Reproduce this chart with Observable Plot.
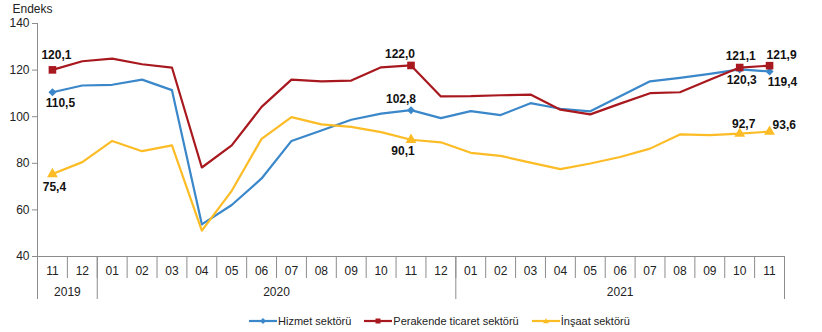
<!DOCTYPE html>
<html><head><meta charset="utf-8">
<script src="https://cdn.jsdelivr.net/npm/d3@7"></script>
<script src="https://cdn.jsdelivr.net/npm/@observablehq/plot@0.6"></script>
<style>
body{margin:0;background:#fff;font-family:"Liberation Sans",Arial,sans-serif;}
#wrap{position:relative;width:822px;height:332px;overflow:hidden;}
#legend{position:absolute;left:249px;top:312px;height:18px;display:flex;align-items:center;font-size:11px;color:#222;white-space:nowrap;}
.item{display:flex;align-items:center;margin-right:13px;}
.item svg{margin-right:1px;}
</style></head><body>
<div id="wrap"><div id="chart"></div><div id="legend"></div></div>
<script>
// ---- data ----
const months = ["11","12","01","02","03","04","05","06","07","08","09","10","11","12","01","02","03","04","05","06","07","08","09","10","11"];
const yearLabels = ["2019","2020","2021"];
const yearMonthCounts = [2, 12, 11];
const yTicks = [40, 60, 80, 100, 120, 140];

const hizmet    = [110.5,113.4,113.7,115.9,111.4,53.8,62.1,73.5,89.6,94.1,98.7,101.3,102.8,99.4,102.4,100.7,105.8,103.4,102.3,108.8,115.2,116.7,118.4,120.3,119.4];
const perakende = [120.1,123.8,124.9,122.5,121.1,78.2,87.7,104.2,115.9,115.2,115.5,121.2,122.0,108.7,108.8,109.2,109.5,103.0,101.0,105.6,110.1,110.5,115.9,121.1,121.9];
const insaat    = [75.4,80.5,89.6,85.2,87.7,51.1,68.2,90.5,99.8,96.7,95.6,93.4,90.1,89.0,84.5,83.2,80.3,77.5,79.9,82.7,86.3,92.4,92.1,92.7,93.6];
const seriesNames = ["Hizmet sektörü", "Perakende ticaret sektörü", "İnşaat sektörü"];
const labelledMonths = [0, 12, 23, 24];

// ---- styling / placement (not data) ----
const styles = [
  {values: hizmet, color: "#3a87c9", symbol: "diamond2", r: 3.6,
   labels: [{dx: 8, dy: 11}, {dx: -10, dy: -11}, {dx: 2, dy: 11}, {dx: 13, dy: 11}]},
  {values: perakende, color: "#a8191f", symbol: "square", r: 4.3,
   labels: [{dx: 4, dy: -15}, {dx: -11, dy: -11}, {dx: 1, dy: -11}, {dx: 12, dy: -11}]},
  {values: insaat, color: "#fcbc26", symbol: "triangle", r: 4.0,
   labels: [{dx: 2, dy: 13}, {dx: -8, dy: 11}, {dx: 4, dy: -10}, {dx: 3, dy: -6, anchor: "start"}]}
];

const idx = months.map((_, i) => i);
const fmt = v => v.toFixed(1).replace(".", ",");

// category table geometry derived from data
const yearBounds = [-0.5];
yearMonthCounts.forEach(c => yearBounds.push(yearBounds[yearBounds.length - 1] + c));
const yearCenters = yearMonthCounts.map((c, k) => yearBounds[k] + c / 2);
const monthBounds = d3.range(months.length + 1).map(i => i - 0.5);

const axisGrey = "#8c8c8c";
const marks = [
  Plot.ruleX([-0.5], {stroke: axisGrey}),
  Plot.ruleY([40], {stroke: axisGrey}),
  Plot.axisY({ticks: yTicks, tickSize: 5, tickPadding: 3, label: null, fontSize: 12, stroke: axisGrey, fill: "#222"}),
  Plot.axisX({ticks: monthBounds, tickSize: 22, tickFormat: () => "", label: null, stroke: axisGrey}),
  Plot.axisX({ticks: yearBounds, tickSize: 43, tickFormat: () => "", label: null, stroke: axisGrey}),
  Plot.axisX({ticks: idx, tickSize: 0, tickPadding: 10, tickFormat: i => months[i], label: null, fontSize: 12, fill: "#222"}),
  Plot.axisX({ticks: yearCenters, tickSize: 0, tickPadding: 31, tickFormat: d => yearLabels[yearCenters.indexOf(d)], label: null, fontSize: 12, fill: "#222"}),
  Plot.text(["Endeks"], {frameAnchor: "top-left", dx: -25, dy: -19, textAnchor: "start", fontSize: 12, fill: "#222"})
];

styles.forEach(s => {
  marks.push(Plot.line(idx, {x: i => i, y: i => s.values[i], stroke: s.color, strokeWidth: 2.2}));
  marks.push(Plot.dot(labelledMonths, {x: i => i, y: i => s.values[i], symbol: s.symbol, r: s.r, fill: s.color, stroke: "none"}));
});
styles.forEach(s => {
  labelledMonths.forEach((m, k) => {
    const p = s.labels[k];
    marks.push(Plot.text([m], {x: i => i, y: i => s.values[i], text: i => fmt(s.values[i]),
      dx: p.dx, dy: p.dy, textAnchor: p.anchor || "middle", fontSize: 12, fontWeight: "bold", fill: "#111"}));
  });
});

const chart = Plot.plot({
  width: 822, height: 305,
  marginLeft: 37, marginRight: 38, marginTop: 23, marginBottom: 49,
  x: {type: "linear", domain: [-0.5, months.length - 0.5]},
  y: {domain: [40, 140]},
  style: {fontFamily: "'Liberation Sans', Arial, sans-serif", fontSize: "12px", background: "white", overflow: "visible"},
  marks
});
document.getElementById("chart").appendChild(chart);

// legend
const legend = document.getElementById("legend");
styles.forEach((s, k) => {
  const item = document.createElement("div");
  item.className = "item";
  const sym = s.symbol === "square" ? `<rect x="11.5" y="2.5" width="5" height="5" fill="${s.color}"/>`
    : s.symbol === "triangle" ? `<path d="M14 2.3 L17 7.3 L11 7.3 Z" fill="${s.color}"/>`
    : `<path d="M14 2 L17 5 L14 8 L11 5 Z" fill="${s.color}"/>`;
  item.innerHTML = `<svg width="28" height="10"><line x1="0" x2="28" y1="5" y2="5" stroke="${s.color}" stroke-width="2.2"/>${sym}</svg><span>${seriesNames[k]}</span>`;
  legend.appendChild(item);
});
</script>
</body></html>
